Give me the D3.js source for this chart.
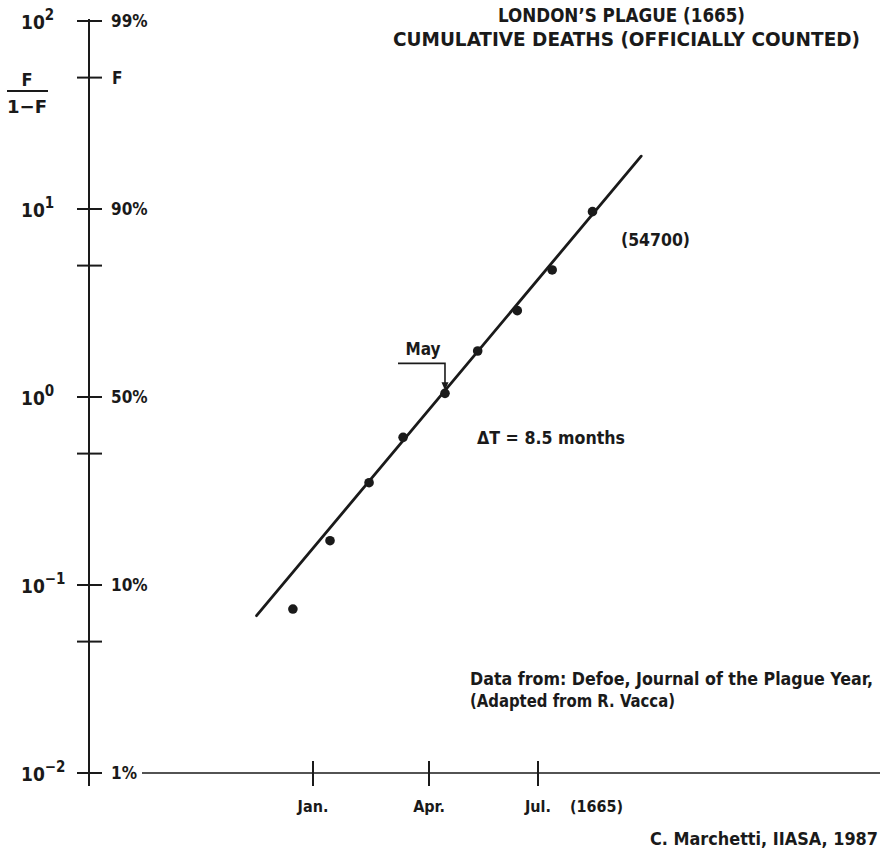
<!DOCTYPE html>
<html>
<head>
<meta charset="utf-8">
<script src="https://cdn.jsdelivr.net/npm/d3@7"></script>
<style>
  body { margin: 0; background: #fff; }
  text { font-family: "Liberation Sans Narrow", "Arial Narrow", "DejaVu Sans Condensed", "Liberation Sans", sans-serif; font-weight: bold; fill: #1a1a1a; }
</style>
</head>
<body>
<script>
// months counted from Jan. 1665 (Jan = 0)
var monthTicks = [0, 3, 6];
var monthLabels = ["Jan.", "Apr.", "Jul."];

// observed points: month, F/(1-F)
var months = [-0.52, 0.44, 1.45, 2.33, 3.44, 4.34, 5.43, 6.39, 7.5];
var ratio = [0.0745, 0.172, 0.350, 0.610, 1.046, 1.757, 2.88, 4.74, 9.68];

// fitted logistic (straight line in Fisher-Pry coords)
var fitMonths = [-1.46, 8.84];
var fitRatio = [0.0687, 19.1];

var decadeTicks = [100, 10, 1, 0.1, 0.01];
var decadeExp = ["2", "1", "0", "\u22121", "\u22122"];
var pctLabels = ["99%", "90%", "50%", "10%", "1%"];
var minorTicks = [50, 5, 0.5, 0.05];

var WIDTH = 883;
var HEIGHT = 853;
var AXIS_X = 89;

var svg = d3.select("body")
	.append("svg")
	.attr("width", WIDTH)
	.attr("height", HEIGHT);

var x = d3.scaleLinear()
	.domain(monthTicks)
	.range([313, 429, 538]);

var y = d3.scaleLog()
	.domain([0.01, 100])
	.range([773, 21]);

var ink = "#1a1a1a";

// fixed-width text helper (original lettering is a condensed face)
var label = function(px, py, str, size, len, anchor) {
	var t = svg.append("text")
		.attr("x", px).attr("y", py)
		.attr("text-anchor", anchor || "start")
		.style("font-size", size + "px")
		.text(str);
	if (len) t.attr("textLength", len).attr("lengthAdjust", "spacingAndGlyphs");
	return t;
}

// y axis (drawn by hand: crossing ticks)
svg.append("line")
	.attr("x1", AXIS_X).attr("x2", AXIS_X)
	.attr("y1", y(100) - 2).attr("y2", y(0.01) + 13)
	.attr("stroke", ink).attr("stroke-width", 2);

svg.selectAll(".ytick")
	.data(decadeTicks.concat(minorTicks))
	.enter()
	.append("line")
	.attr("x1", AXIS_X - 12).attr("x2", AXIS_X + 13)
	.attr("y1", function(d) { return y(d); })
	.attr("y2", function(d) { return y(d); })
	.attr("stroke", ink).attr("stroke-width", 2);

var dec = svg.selectAll(".dec")
	.data(decadeTicks)
	.enter()
	.append("text")
	.attr("x", 21)
	.attr("y", function(d) { return y(d) + 8; })
	.style("font-size", "19px");
dec.append("tspan").text("10");
dec.append("tspan")
	.attr("dy", -9)
	.style("font-size", "15px")
	.text(function(d, i) { return decadeExp[i]; });

svg.selectAll(".pct")
	.data(decadeTicks)
	.enter()
	.append("text")
	.attr("x", 111)
	.attr("y", function(d) { return y(d) + 6; })
	.style("font-size", "17px")
	.text(function(d, i) { return pctLabels[i]; });

label(112, y(50) + 6, "F", 17);

// F / (1-F) axis name
label(27, 86, "F", 18, null, "middle");
svg.append("line")
	.attr("x1", 7).attr("x2", 48)
	.attr("y1", 91).attr("y2", 91)
	.attr("stroke", ink).attr("stroke-width", 2);
label(27, 113, "1\u2212F", 18, 40, "middle");

// x axis
svg.append("line")
	.attr("x1", 142).attr("x2", 880)
	.attr("y1", y(0.01)).attr("y2", y(0.01))
	.attr("stroke", ink).attr("stroke-width", 1.6);

svg.selectAll(".xtick")
	.data(monthTicks)
	.enter()
	.append("line")
	.attr("x1", function(d) { return x(d); })
	.attr("x2", function(d) { return x(d); })
	.attr("y1", y(0.01) - 12).attr("y2", y(0.01) + 13)
	.attr("stroke", ink).attr("stroke-width", 2);

svg.selectAll(".xlab")
	.data(monthTicks)
	.enter()
	.append("text")
	.attr("x", function(d) { return x(d); })
	.attr("y", 812)
	.attr("text-anchor", "middle")
	.style("font-size", "16px")
	.text(function(d, i) { return monthLabels[i]; });

label(570, 812, "(1665)", 16, 53);

// fitted line
svg.append("line")
	.attr("x1", x(fitMonths[0])).attr("y1", y(fitRatio[0]))
	.attr("x2", x(fitMonths[1])).attr("y2", y(fitRatio[1]))
	.attr("stroke", ink).attr("stroke-width", 2.8)
	.attr("stroke-linecap", "round");

// data points
svg.selectAll("circle")
	.data(months)
	.enter()
	.append("circle")
	.attr("cx", function(d) { return x(d); })
	.attr("cy", function(d, i) { return y(ratio[i]); })
	.attr("r", 4.8)
	.attr("fill", ink);

// May marker
var mx = x(months[4]);
var my = y(ratio[4]);
svg.append("path")
	.attr("d", "M" + (mx - 47) + "," + (my - 30) + "H" + mx + "V" + (my - 6))
	.attr("fill", "none")
	.attr("stroke", ink).attr("stroke-width", 1.6);
svg.append("path")
	.attr("d", "M" + (mx - 3.5) + "," + (my - 11) + "L" + mx + "," + (my - 3) + "L" + (mx + 3.5) + "," + (my - 11) + "Z")
	.attr("fill", ink);
label(mx - 22, my - 38, "May", 17, null, "middle");

// annotations
label(477, 444, "\u0394T = 8.5 months", 17, 148);
label(621, 246, "(54700)", 17, 69);

label(621.5, 22, "LONDON\u2019S PLAGUE (1665)", 19, 247, "middle");
label(626.5, 46, "CUMULATIVE DEATHS (OFFICIALLY COUNTED)", 19, 467, "middle");

label(470, 685, "Data from: Defoe, Journal of the Plague Year,", 17, 403);
label(470, 707, "(Adapted from R. Vacca)", 17, 205);

label(878, 845, "C. Marchetti, IIASA, 1987", 18, 228, "end");
</script>
</body>
</html>
